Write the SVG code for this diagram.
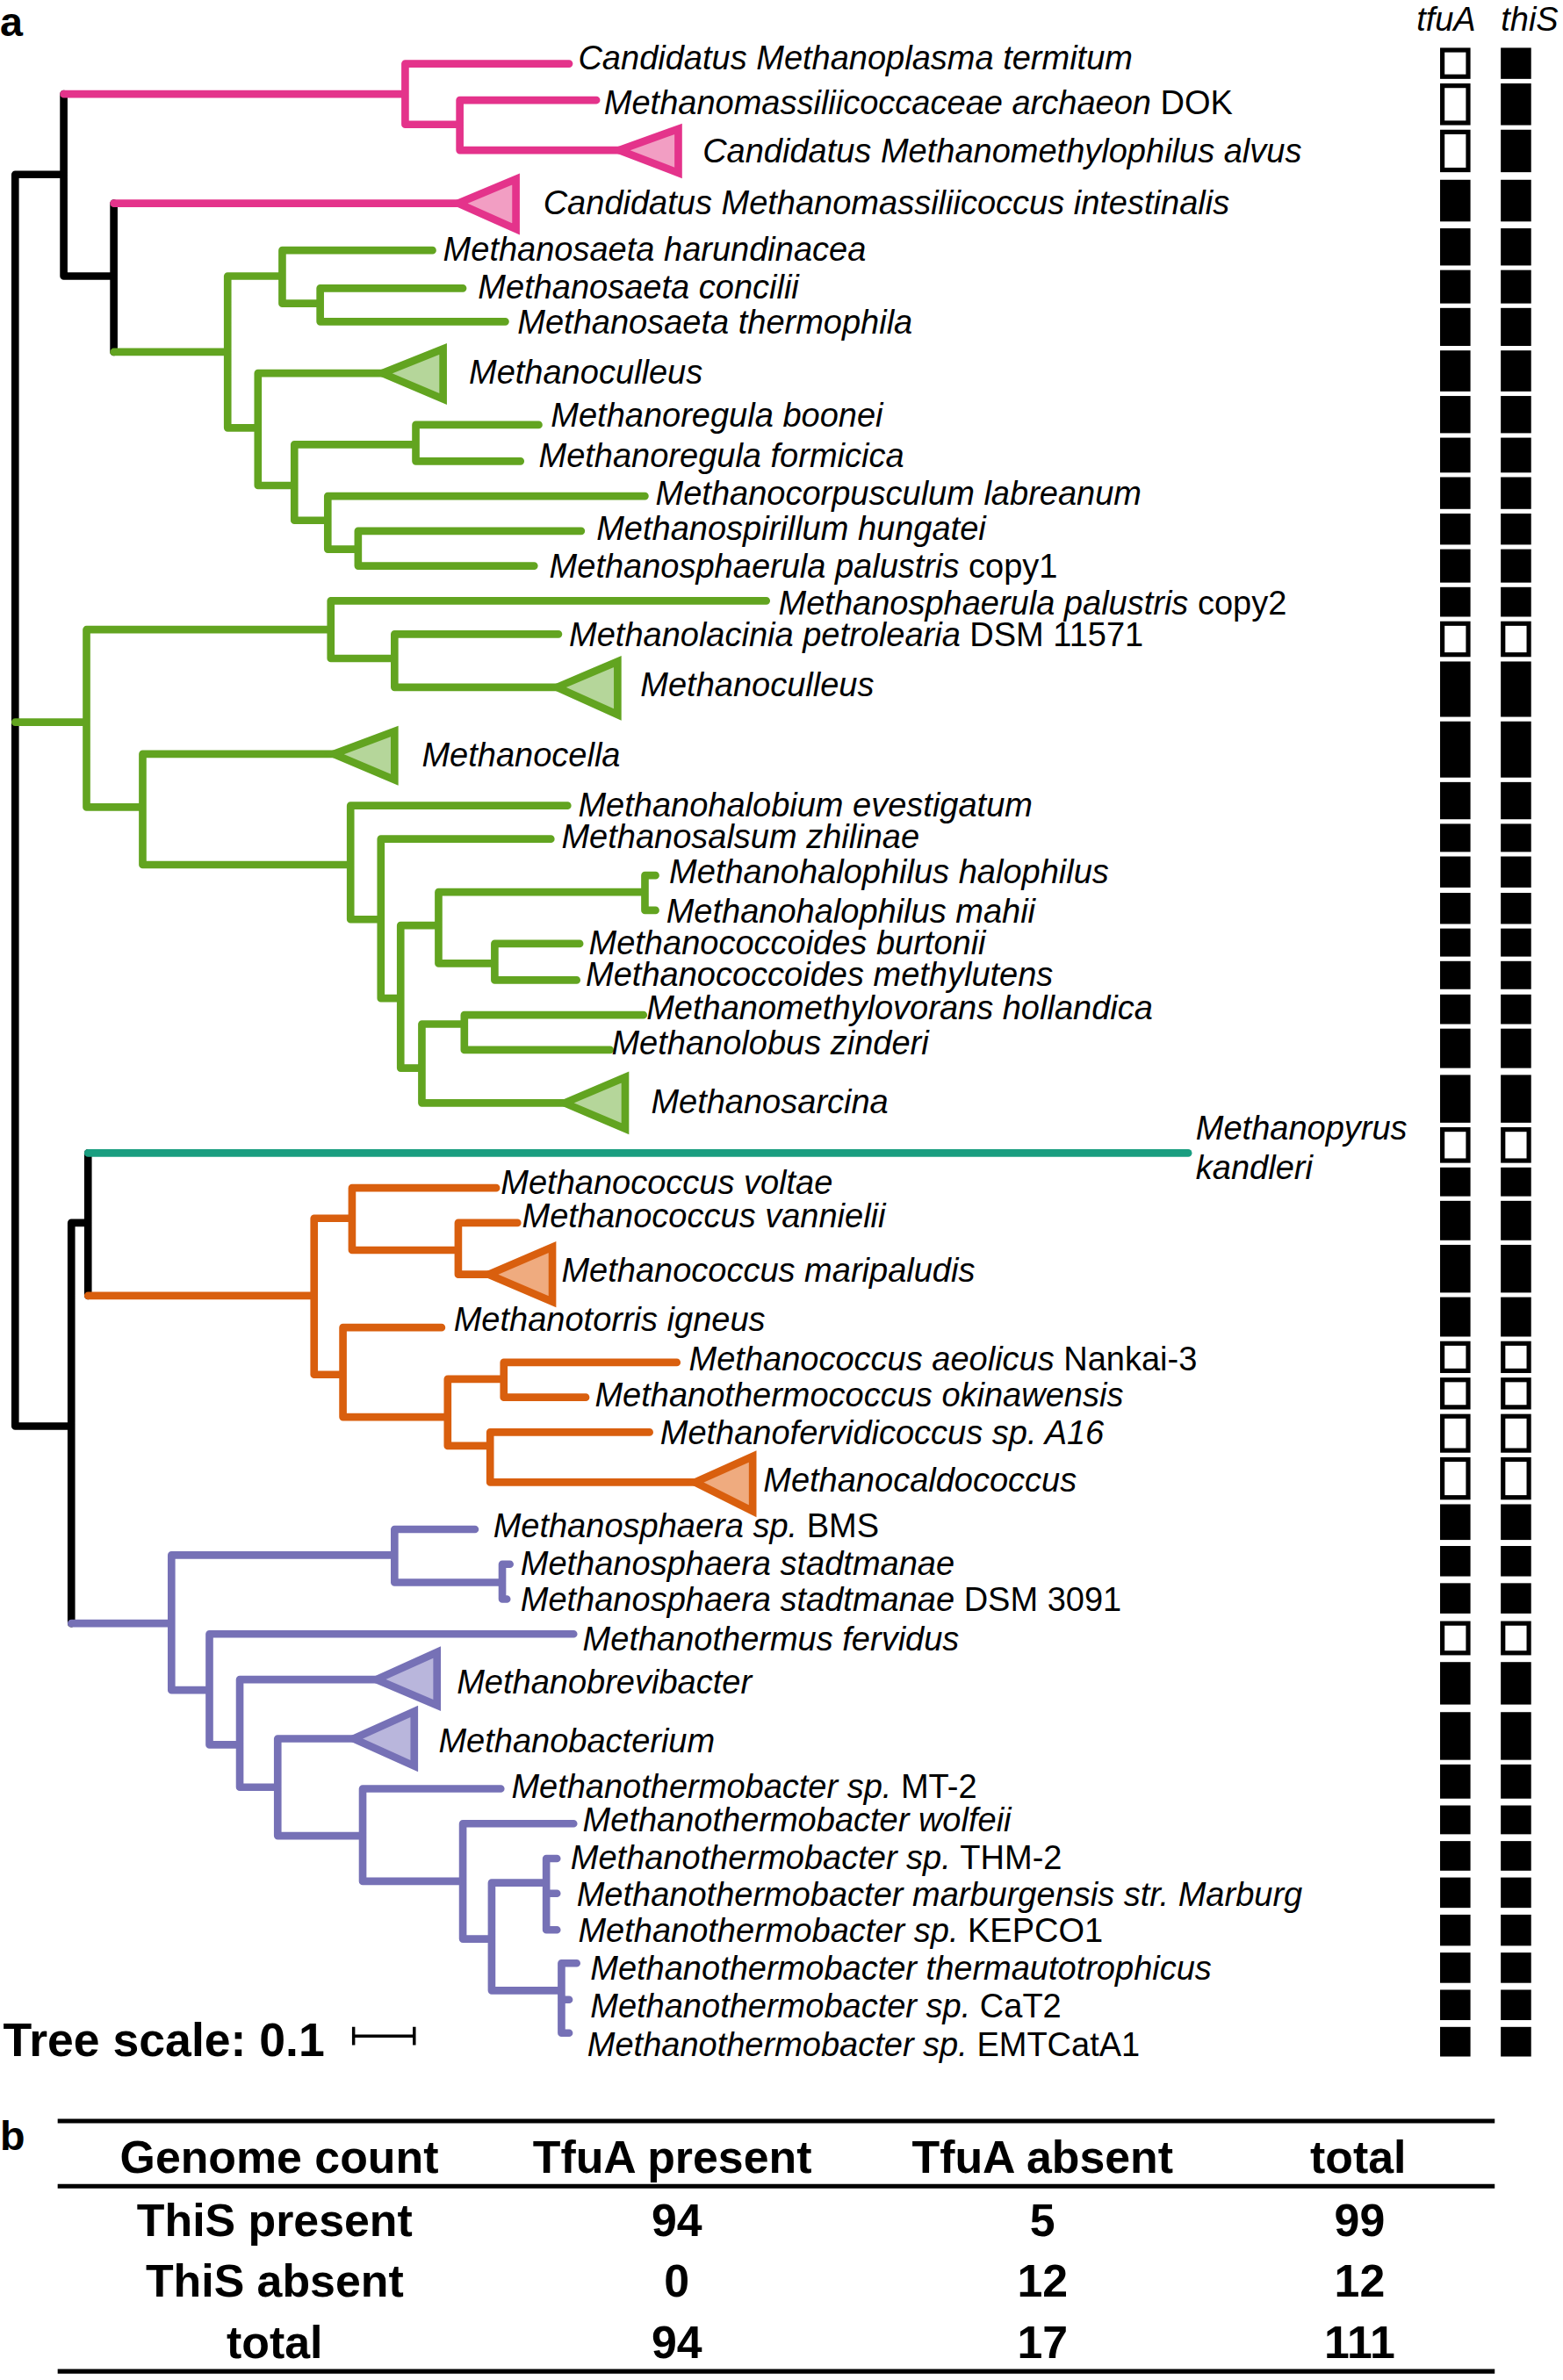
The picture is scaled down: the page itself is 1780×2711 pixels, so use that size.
<svg xmlns="http://www.w3.org/2000/svg" width="1780" height="2711" viewBox="0 0 1780 2711">
<style>
text{font-family:"Liberation Sans",Arial,sans-serif;fill:#000}
.t{font-style:italic;font-size:22px}
.n{font-style:normal}
.b{font-weight:bold}
.br{fill:none;stroke-width:5;stroke-linecap:round;stroke-linejoin:miter}
.f{fill:#000}
.e{fill:#fff;stroke:#000;stroke-width:3}
.k{stroke:#000}.pk{stroke:#e4338b}.gr{stroke:#62a420}.tl{stroke:#1a9e80}.or{stroke:#d95f0e}.pu{stroke:#7671b6}
.tri{stroke-width:5;stroke-linejoin:miter}
</style>
<rect width="1780" height="2711" fill="#fff"/>
<g transform="scale(1.72816)">
<text x="0" y="24" class="b" font-size="27">a</text>
<text x="953" y="20" class="t" text-anchor="middle" font-size="25">tfuA</text>
<text x="1008" y="20" class="t" text-anchor="middle" font-size="25">thiS</text>
<g id="connectors">
<path class="br k" d="M10 115 V940 M10 115 H42 M42 62 V182 M42 182 H75 M75 134 V232 M10 940 H47 M47 806 V1070 M47 806 H58 M58 760 V854"/>
<path class="br pk" d="M42 62 H267 M267 42 V82 M267 42 H375 M267 82 H303 M303 66 V99 M303 66 H393 M303 99 H408 M75 134 H302"/>
<path class="br gr" d="M75 232 H150 M150 182 V282 M150 182 H186 M186 165 V200 M186 165 H285 M186 200 H211 M211 190 V212 M211 190 H305 M211 212 H333 M150 282 H170 M170 246 V320 M170 246 H252 M170 320 H194 M194 293 V343 M194 293 H274 M274 280 V304 M274 280 H355 M274 304 H343 M194 343 H216 M216 327 V362 M216 327 H425 M216 362 H236 M236 350 V373 M236 350 H383 M236 373 H352"/>
<path class="br gr" d="M10 476 H57 M57 415 V532 M57 415 H218 M218 396 V434 M218 396 H505 M218 434 H260 M260 418 V453 M260 418 H368 M260 453 H367 M57 532 H94 M94 497 V570 M94 497 H220 M94 570 H231 M231 531 V606 M231 531 H374 M231 606 H251 M251 553 V658 M251 553 H363 M251 658 H264 M264 610 V704 M264 610 H289 M289 588 V635 M289 588 H425 M425 577 V600 M425 577 H432 M425 600 H432 M289 635 H326 M326 622 V646 M326 622 H382 M326 646 H380 M264 704 H278 M278 675 V727 M278 675 H306 M306 669 V692 M306 669 H424 M306 692 H402 M278 727 H372"/>
<path class="br tl" d="M58 760 H783"/>
<path class="br or" d="M58 854 H207 M207 803 V906 M207 803 H232 M232 783 V824 M232 783 H327 M232 824 H302 M302 806 V840 M302 806 H341 M302 840 H322 M207 906 H226 M226 875 V934 M226 875 H291 M226 934 H295 M295 909 V953 M295 909 H332 M332 898 V921 M332 898 H446 M332 921 H386 M295 953 H323 M323 944 V977 M323 944 H428 M323 977 H458"/>
<path class="br pu" d="M47 1070 H113 M113 1025 V1114 M113 1025 H260 M260 1008 V1043 M260 1008 H313 M260 1043 H331 M331 1031 V1054 M331 1031 H336 M331 1054 H334 M113 1114 H138 M138 1077 V1150 M138 1077 H378 M138 1150 H158 M158 1107 V1178 M158 1107 H248 M158 1178 H183 M183 1146 V1210 M183 1146 H233 M183 1210 H239 M239 1179 V1240 M239 1179 H330 M239 1240 H305 M305 1202 V1278 M305 1202 H378 M305 1278 H324 M324 1241 V1312 M324 1241 H360 M360 1225 V1272 M360 1225 H367 M360 1248 H367 M360 1272 H367 M324 1312 H370 M370 1294 V1340 M370 1294 H380 M370 1318 H375 M370 1340 H375"/>
<polygon class="tri pk" fill="#f29ec3" points="408,99 447,85 447,114"/>
<polygon class="tri pk" fill="#f29ec3" points="302,134 340,118 340,151"/>
<polygon class="tri gr" fill="#b5d69a" points="252,246 292,230 292,263"/>
<polygon class="tri gr" fill="#b5d69a" points="367,453 407,436 407,471"/>
<polygon class="tri gr" fill="#b5d69a" points="220,497 260,482 260,514"/>
<polygon class="tri gr" fill="#b5d69a" points="372,727 412,710 412,744"/>
<polygon class="tri or" fill="#efab7f" points="322,840 364,822 364,858"/>
<polygon class="tri or" fill="#efab7f" points="458,977 496,960 496,996"/>
<polygon class="tri pu" fill="#b9b6dc" points="248,1107 288,1089 288,1124"/>
<polygon class="tri pu" fill="#b9b6dc" points="233,1146 273,1128 273,1164"/>
</g>
<g id="n1"><text class="t" x="381" y="46">Candidatus Methanoplasma termitum</text><rect class="e" x="950.5" y="33" width="17" height="17.5"/><rect class="f" x="989" y="31.5" width="20" height="20.5"/></g>
<g id="n2"><text class="t" x="398" y="75">Methanomassiliicoccaceae archaeon <tspan class="n">DOK</tspan></text><rect class="e" x="950.5" y="56.5" width="17" height="24.5"/><rect class="f" x="989" y="55" width="20" height="27.5"/></g>
<g id="n3"><text class="t" x="463" y="107">Candidatus Methanomethylophilus alvus</text><rect class="e" x="950.5" y="87" width="17" height="25"/><rect class="f" x="989" y="85.5" width="20" height="28"/></g>
<g id="n4"><text class="t" x="358" y="141">Candidatus Methanomassiliicoccus intestinalis</text><rect class="f" x="949" y="118.5" width="20" height="27.5"/><rect class="f" x="989" y="118.5" width="20" height="27.5"/></g>
<g id="n5"><text class="t" x="292" y="172">Methanosaeta harundinacea</text><rect class="f" x="949" y="150.5" width="20" height="24.5"/><rect class="f" x="989" y="150.5" width="20" height="24.5"/></g>
<g id="n6"><text class="t" x="315" y="197">Methanosaeta concilii</text><rect class="f" x="949" y="178" width="20" height="22"/><rect class="f" x="989" y="178" width="20" height="22"/></g>
<g id="n7"><text class="t" x="341" y="220">Methanosaeta thermophila</text><rect class="f" x="949" y="203" width="20" height="25"/><rect class="f" x="989" y="203" width="20" height="25"/></g>
<g id="n8"><text class="t" x="309" y="253">Methanoculleus</text><rect class="f" x="949" y="231" width="20" height="27"/><rect class="f" x="989" y="231" width="20" height="27"/></g>
<g id="n9"><text class="t" x="363" y="281">Methanoregula boonei</text><rect class="f" x="949" y="261" width="20" height="24.5"/><rect class="f" x="989" y="261" width="20" height="24.5"/></g>
<g id="n10"><text class="t" x="355" y="308">Methanoregula formicica</text><rect class="f" x="949" y="288.5" width="20" height="23"/><rect class="f" x="989" y="288.5" width="20" height="23"/></g>
<g id="n11"><text class="t" x="432" y="333">Methanocorpusculum labreanum</text><rect class="f" x="949" y="314.5" width="20" height="21"/><rect class="f" x="989" y="314.5" width="20" height="21"/></g>
<g id="n12"><text class="t" x="393" y="356">Methanospirillum hungatei</text><rect class="f" x="949" y="338.5" width="20" height="20.5"/><rect class="f" x="989" y="338.5" width="20" height="20.5"/></g>
<g id="n13"><text class="t" x="362" y="381">Methanosphaerula palustris <tspan class="n">copy1</tspan></text><rect class="f" x="949" y="362" width="20" height="22"/><rect class="f" x="989" y="362" width="20" height="22"/></g>
<g id="n14"><text class="t" x="513" y="405">Methanosphaerula palustris <tspan class="n">copy2</tspan></text><rect class="f" x="949" y="387" width="20" height="19.5"/><rect class="f" x="989" y="387" width="20" height="19.5"/></g>
<g id="n15"><text class="t" x="375" y="426">Methanolacinia petrolearia <tspan class="n">DSM 11571</tspan></text><rect class="e" x="950.5" y="411" width="17" height="20.5"/><rect class="e" x="990.5" y="411" width="17" height="20.5"/></g>
<g id="n16"><text class="t" x="422" y="459">Methanoculleus</text><rect class="f" x="949" y="436" width="20" height="36.5"/><rect class="f" x="989" y="436" width="20" height="36.5"/></g>
<g id="n17"><text class="t" x="278" y="505">Methanocella</text><rect class="f" x="949" y="475.5" width="20" height="37"/><rect class="f" x="989" y="475.5" width="20" height="37"/></g>
<g id="n18"><text class="t" x="381" y="538">Methanohalobium evestigatum</text><rect class="f" x="949" y="515.5" width="20" height="24.5"/><rect class="f" x="989" y="515.5" width="20" height="24.5"/></g>
<g id="n19"><text class="t" x="370" y="559">Methanosalsum zhilinae</text><rect class="f" x="949" y="543" width="20" height="18.5"/><rect class="f" x="989" y="543" width="20" height="18.5"/></g>
<g id="n20"><text class="t" x="441" y="582">Methanohalophilus halophilus</text><rect class="f" x="949" y="564.5" width="20" height="20.5"/><rect class="f" x="989" y="564.5" width="20" height="20.5"/></g>
<g id="n21"><text class="t" x="439" y="608">Methanohalophilus mahii</text><rect class="f" x="949" y="588.5" width="20" height="20.5"/><rect class="f" x="989" y="588.5" width="20" height="20.5"/></g>
<g id="n22"><text class="t" x="388" y="629">Methanococcoides burtonii</text><rect class="f" x="949" y="612" width="20" height="18.5"/><rect class="f" x="989" y="612" width="20" height="18.5"/></g>
<g id="n23"><text class="t" x="386" y="650">Methanococcoides methylutens</text><rect class="f" x="949" y="633.5" width="20" height="18.5"/><rect class="f" x="989" y="633.5" width="20" height="18.5"/></g>
<g id="n24"><text class="t" x="426" y="672">Methanomethylovorans hollandica</text><rect class="f" x="949" y="655.5" width="20" height="19.5"/><rect class="f" x="989" y="655.5" width="20" height="19.5"/></g>
<g id="n25"><text class="t" x="403" y="695">Methanolobus zinderi</text><rect class="f" x="949" y="678" width="20" height="26"/><rect class="f" x="989" y="678" width="20" height="26"/></g>
<g id="n26"><text class="t" x="429" y="734">Methanosarcina</text><rect class="f" x="949" y="708.5" width="20" height="31.5"/><rect class="f" x="989" y="708.5" width="20" height="31.5"/></g>
<g id="n27"><text class="t" x="788" y="751">Methanopyrus</text><text class="t" x="788" y="777">kandleri</text><rect class="e" x="950.5" y="744.5" width="17" height="20.5"/><rect class="e" x="990.5" y="744.5" width="17" height="20.5"/></g>
<g id="n28"><text class="t" x="330" y="787">Methanococcus voltae</text><rect class="f" x="949" y="769.5" width="20" height="19"/><rect class="f" x="989" y="769.5" width="20" height="19"/></g>
<g id="n29"><text class="t" x="344" y="809">Methanococcus vannielii</text><rect class="f" x="949" y="791.5" width="20" height="26"/><rect class="f" x="989" y="791.5" width="20" height="26"/></g>
<g id="n30"><text class="t" x="370" y="845">Methanococcus maripaludis</text><rect class="f" x="949" y="820.5" width="20" height="31.5"/><rect class="f" x="989" y="820.5" width="20" height="31.5"/></g>
<g id="n31"><text class="t" x="299" y="877">Methanotorris igneus</text><rect class="f" x="949" y="855" width="20" height="26"/><rect class="f" x="989" y="855" width="20" height="26"/></g>
<g id="n32"><text class="t" x="454" y="903">Methanococcus aeolicus <tspan class="n">Nankai-3</tspan></text><rect class="e" x="950.5" y="885.5" width="17" height="18"/><rect class="e" x="990.5" y="885.5" width="17" height="18"/></g>
<g id="n33"><text class="t" x="392" y="927">Methanothermococcus okinawensis</text><rect class="e" x="950.5" y="909.5" width="17" height="18"/><rect class="e" x="990.5" y="909.5" width="17" height="18"/></g>
<g id="n34"><text class="t" x="435" y="952">Methanofervidicoccus sp. A16</text><rect class="e" x="950.5" y="933.5" width="17" height="22.5"/><rect class="e" x="990.5" y="933.5" width="17" height="22.5"/></g>
<g id="n35"><text class="t" x="503" y="983">Methanocaldococcus</text><rect class="e" x="950.5" y="962" width="17" height="25"/><rect class="e" x="990.5" y="962" width="17" height="25"/></g>
<g id="n36"><text class="t" x="325" y="1013">Methanosphaera sp. <tspan class="n">BMS</tspan></text><rect class="f" x="949" y="991.5" width="20" height="23.5"/><rect class="f" x="989" y="991.5" width="20" height="23.5"/></g>
<g id="n37"><text class="t" x="343" y="1038">Methanosphaera stadtmanae</text><rect class="f" x="949" y="1019" width="20" height="20"/><rect class="f" x="989" y="1019" width="20" height="20"/></g>
<g id="n38"><text class="t" x="343" y="1062">Methanosphaera stadtmanae <tspan class="n">DSM 3091</tspan></text><rect class="f" x="949" y="1043.5" width="20" height="20"/><rect class="f" x="989" y="1043.5" width="20" height="20"/></g>
<g id="n39"><text class="t" x="384" y="1088">Methanothermus fervidus</text><rect class="e" x="950.5" y="1070" width="17" height="19.5"/><rect class="e" x="990.5" y="1070" width="17" height="19.5"/></g>
<g id="n40"><text class="t" x="301" y="1116">Methanobrevibacter</text><rect class="f" x="949" y="1095.5" width="20" height="28"/><rect class="f" x="989" y="1095.5" width="20" height="28"/></g>
<g id="n41"><text class="t" x="289" y="1155">Methanobacterium</text><rect class="f" x="949" y="1128.5" width="20" height="31.5"/><rect class="f" x="989" y="1128.5" width="20" height="31.5"/></g>
<g id="n42"><text class="t" x="337" y="1185">Methanothermobacter sp. <tspan class="n">MT-2</tspan></text><rect class="f" x="949" y="1163" width="20" height="22.5"/><rect class="f" x="989" y="1163" width="20" height="22.5"/></g>
<g id="n43"><text class="t" x="384" y="1207">Methanothermobacter wolfeii</text><rect class="f" x="949" y="1190" width="20" height="19"/><rect class="f" x="989" y="1190" width="20" height="19"/></g>
<g id="n44"><text class="t" x="376" y="1232">Methanothermobacter sp. <tspan class="n">THM-2</tspan></text><rect class="f" x="949" y="1213.5" width="20" height="19.5"/><rect class="f" x="989" y="1213.5" width="20" height="19.5"/></g>
<g id="n45"><text class="t" x="380" y="1256">Methanothermobacter marburgensis str. Marburg</text><rect class="f" x="949" y="1237.5" width="20" height="20"/><rect class="f" x="989" y="1237.5" width="20" height="20"/></g>
<g id="n46"><text class="t" x="381" y="1280">Methanothermobacter sp. <tspan class="n">KEPCO1</tspan></text><rect class="f" x="949" y="1262" width="20" height="20.5"/><rect class="f" x="989" y="1262" width="20" height="20.5"/></g>
<g id="n47"><text class="t" x="389" y="1305">Methanothermobacter thermautotrophicus</text><rect class="f" x="949" y="1287" width="20" height="20"/><rect class="f" x="989" y="1287" width="20" height="20"/></g>
<g id="n48"><text class="t" x="389" y="1330">Methanothermobacter sp. <tspan class="n">CaT2</tspan></text><rect class="f" x="949" y="1311.5" width="20" height="20"/><rect class="f" x="989" y="1311.5" width="20" height="20"/></g>
<g id="n49"><text class="t" x="387" y="1355">Methanothermobacter sp. <tspan class="n">EMTCatA1</tspan></text><rect class="f" x="949" y="1336" width="20" height="19.5"/><rect class="f" x="989" y="1336" width="20" height="19.5"/></g>
<g id="scale"><text x="2" y="1355" class="b" font-size="31">Tree scale: 0.1</text><path d="M233 1342 H273 M233 1336 V1348 M273 1336 V1348" stroke="#000" stroke-width="2" fill="none"/></g>
<g id="table">
<text x="0" y="1417" class="b" font-size="27">b</text>
<path d="M38 1398 H985 M38 1441 H985 M38 1563 H985" stroke="#000" stroke-width="3" fill="none"/>
<g class="b" font-size="30" text-anchor="middle">
<text x="184" y="1432">Genome count</text><text x="443" y="1432">TfuA present</text><text x="687" y="1432">TfuA absent</text><text x="895" y="1432">total</text>
<text x="181" y="1474">ThiS present</text><text x="446" y="1474">94</text><text x="687" y="1474">5</text><text x="896" y="1474">99</text>
<text x="181" y="1514">ThiS absent</text><text x="446" y="1514">0</text><text x="687" y="1514">12</text><text x="896" y="1514">12</text>
<text x="181" y="1554">total</text><text x="446" y="1554">94</text><text x="687" y="1554">17</text><text x="896" y="1554">111</text>
</g>
</g>
</g>
</svg>
